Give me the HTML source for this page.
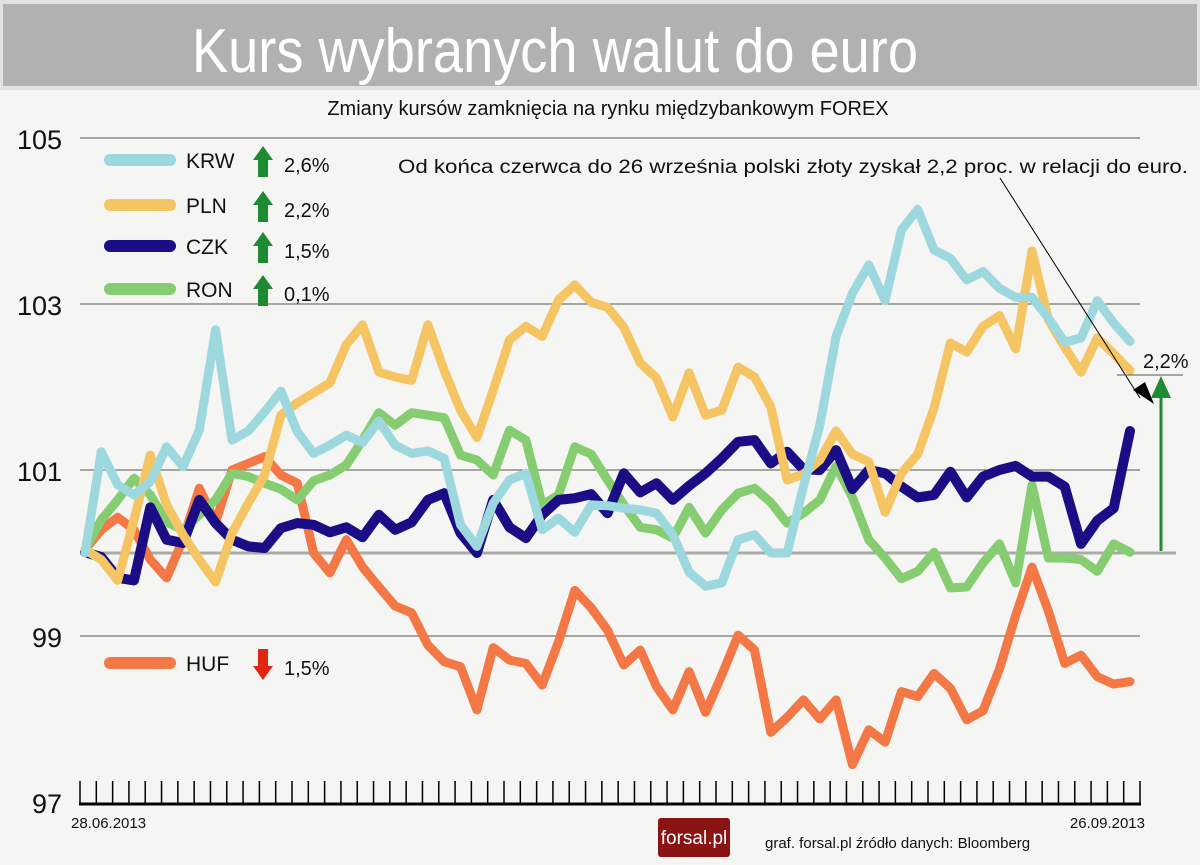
<!DOCTYPE html>
<html><head><meta charset="utf-8">
<style>
body{margin:0;background:#f5f5f3;}
svg{display:block;font-family:"Liberation Sans",sans-serif;}
</style></head>
<body>
<svg id="chart" width="1200" height="865" viewBox="0 0 1200 865">
<rect x="0" y="0" width="1200" height="865" fill="#f5f5f3"/>
<rect x="0" y="0" width="1200" height="90" fill="#e2e2e2"/>
<rect x="3" y="4" width="1194" height="82" fill="#b1b1b1"/>
<text x="192" y="72" font-family="'Liberation Sans Narrow','Liberation Sans',sans-serif" font-size="62" fill="#ffffff" textLength="726" lengthAdjust="spacingAndGlyphs">Kurs wybranych walut do euro</text>
<text x="608" y="115" font-size="20" text-anchor="middle" fill="#111">Zmiany kursów zamknięcia na rynku międzybankowym FOREX</text>
<g id="grid"></g>
<g id="yaxis"></g>
<g id="xaxis"></g>
<g id="series"></g>
<g id="legend"></g>
<text x="398" y="173" font-size="19" fill="#111" textLength="790" lengthAdjust="spacingAndGlyphs">Od końca czerwca do 26 września polski złoty zyskał 2,2 proc. w relacji do euro.</text>
<line x1="1000" y1="178" x2="1140" y2="398" stroke="#000" stroke-width="1"/>
<polygon points="1154,404 1133,390 1145,382" fill="#000"/>
<line x1="1117" y1="375" x2="1183" y2="375" stroke="#555" stroke-width="1"/>
<text x="1143" y="368" font-size="20" fill="#111">2,2%</text>
<line x1="1161" y1="551" x2="1161" y2="395" stroke="#1e8a32" stroke-width="3"/>
<polygon points="1161,376 1151,398 1171,398" fill="#1e8a32"/>
<text x="71" y="828" font-size="15" fill="#111">28.06.2013</text>
<text x="1145" y="828" font-size="15" fill="#111" text-anchor="end">26.09.2013</text>
<rect x="658" y="818" width="72" height="39" rx="3" fill="#8a1414"/>
<text x="694" y="844" font-size="19" fill="#fff" text-anchor="middle" font-family="'Liberation Sans Narrow','Liberation Sans',sans-serif">forsal.pl</text>
<text x="765" y="848" font-size="15" fill="#111" font-family="'Liberation Sans Narrow','Liberation Sans',sans-serif">graf. forsal.pl    źródło danych: Bloomberg</text>
</svg>
<script>
const yTicks=[105,103,101,99,97];
const gridValues=[105,103,101,99];
const seriesNames=["KRW","PLN","CZK","RON","HUF"];
const seriesChanges=["2,6%","2,2%","1,5%","0,1%","1,5%"];
const KRW=[100.00,101.22,100.82,100.70,100.86,101.28,101.04,101.48,102.69,101.36,101.47,101.70,101.95,101.46,101.20,101.30,101.42,101.33,101.59,101.30,101.20,101.23,101.14,100.34,100.08,100.60,100.88,100.96,100.28,100.42,100.25,100.58,100.57,100.54,100.52,100.48,100.22,99.77,99.60,99.64,100.16,100.22,100.00,100.00,100.80,101.54,102.61,103.13,103.47,103.04,103.89,104.14,103.65,103.55,103.29,103.39,103.19,103.08,103.08,102.83,102.54,102.59,103.04,102.77,102.55];
const PLN=[100.04,99.92,99.67,100.40,101.18,100.58,100.22,99.92,99.65,100.24,100.60,100.94,101.66,101.81,101.93,102.05,102.51,102.75,102.18,102.12,102.08,102.75,102.20,101.72,101.39,101.96,102.57,102.73,102.61,103.05,103.23,103.02,102.96,102.72,102.29,102.11,101.64,102.17,101.66,101.72,102.24,102.12,101.76,100.88,100.95,101.12,101.47,101.19,101.10,100.49,100.96,101.19,101.75,102.53,102.42,102.73,102.86,102.46,103.64,102.81,102.48,102.18,102.59,102.40,102.20];
const CZK=[100.01,99.95,99.70,99.67,100.55,100.16,100.12,100.64,100.36,100.16,100.08,100.06,100.30,100.36,100.34,100.25,100.31,100.19,100.46,100.28,100.37,100.64,100.72,100.24,100.00,100.64,100.31,100.18,100.46,100.64,100.66,100.71,100.48,100.96,100.73,100.84,100.64,100.81,100.96,101.14,101.34,101.36,101.08,101.22,101.01,101.00,101.24,100.77,101.00,100.96,100.80,100.67,100.70,100.98,100.67,100.92,101.00,101.05,100.92,100.92,100.80,100.11,100.39,100.54,101.47];
const RON=[100.04,100.40,100.64,100.90,100.70,100.37,100.28,100.46,100.64,100.96,100.92,100.84,100.77,100.64,100.87,100.94,101.06,101.36,101.69,101.54,101.69,101.66,101.63,101.18,101.12,100.94,101.48,101.36,100.58,100.70,101.28,101.19,100.88,100.58,100.31,100.28,100.18,100.55,100.24,100.52,100.72,100.78,100.61,100.36,100.48,100.64,101.05,100.67,100.16,99.94,99.69,99.78,100.01,99.58,99.59,99.88,100.11,99.64,100.82,99.94,99.94,99.92,99.78,100.11,100.01];
const HUF=[100.04,100.28,100.43,100.28,99.92,99.70,100.16,100.78,100.37,101.00,101.08,101.16,100.94,100.84,100.00,99.76,100.16,99.83,99.59,99.36,99.28,98.89,98.69,98.63,98.11,98.86,98.71,98.67,98.41,98.93,99.55,99.34,99.07,98.65,98.83,98.39,98.11,98.57,98.08,98.53,99.01,98.83,97.84,98.02,98.23,98.00,98.23,97.45,97.87,97.72,98.33,98.27,98.55,98.37,97.99,98.10,98.60,99.25,99.83,99.30,98.67,98.77,98.51,98.42,98.45];

const NS="http://www.w3.org/2000/svg";
const X0=85,X1=1130,YBASE=553,PXU=83;
const N=KRW.length;
function xs(i){return X0+i*(X1-X0)/(N-1);}
function ys(v){return YBASE-(v-100)*PXU;}
function mk(tag,attrs,parent){const e=document.createElementNS(NS,tag);for(const k in attrs)e.setAttribute(k,attrs[k]);parent.appendChild(e);return e;}

const grid=document.getElementById('grid');
gridValues.forEach(v=>{
  const l=mk('line',{x1:80,x2:1140,y1:ys(v),y2:ys(v),stroke:'#555','stroke-width':1},grid);
  
  
});
const base=mk('line',{x1:80,x2:1176,y1:ys(100),y2:ys(100),stroke:'#aaaaaa','stroke-width':3},grid);



const yax=document.getElementById('yaxis');
yTicks.forEach(v=>{
  const t=mk('text',{x:62,y:ys(v)+11,'font-size':27,'text-anchor':'end',fill:'#111'},yax);
  t.textContent=v;
  
  
});

const xax=document.getElementById('xaxis');
const axY=804;
const axl=mk('line',{x1:79,x2:1141,y1:axY,y2:axY,stroke:'#000','stroke-width':3},xax);


for(let i=0;i<66;i++){
  const x=80+i*(1140-80)/65;
  const tk=mk('line',{x1:x,x2:x,y1:781,y2:axY,stroke:'#000','stroke-width':1.5},xax);
  
  
}

const colors={KRW:'#9dd8df',PLN:'#f5c463',CZK:'#1a0d86',RON:'#86cd72',HUF:'#f47746'};
const data={KRW,PLN,CZK,RON,HUF};
const order=["HUF","RON","CZK","PLN","KRW"];
const sg=document.getElementById('series');
order.forEach(name=>{
  const arr=data[name];
  const d=arr.map((v,i)=>(i?'L':'M')+xs(i).toFixed(1)+','+ys(v).toFixed(1)).join(' ');
  const p=mk('path',{d:d,fill:'none',stroke:colors[name],'stroke-width':name==='CZK'?10:9,'stroke-linejoin':'round','stroke-linecap':'round'},sg);
  
  
});

const lg=document.getElementById('legend');
const legendY=[160,205,246,289,663];
seriesNames.forEach((name,k)=>{
  const y=legendY[k];
  const sw=mk('line',{x1:110,x2:170,y1:y,y2:y,stroke:colors[name],'stroke-width':12,'stroke-linecap':'round'},lg);
  
  
  const t=mk('text',{x:186,y:y+8,'font-size':21,fill:'#111'},lg);
  t.textContent=name;
  
  
  const up=name!=='HUF';
  const ax=263;
  const arrow=mk('polygon',{points:up?`${ax},${y-14} ${ax-10},${y} ${ax-5},${y} ${ax-5},${y+17} ${ax+5},${y+17} ${ax+5},${y} ${ax+10},${y}`:`${ax},${y+17} ${ax-10},${y+3} ${ax-5},${y+3} ${ax-5},${y-14} ${ax+5},${y-14} ${ax+5},${y+3} ${ax+10},${y+3}`,fill:up?'#1e8a32':'#e0260e'},lg);
  
  
  const c=mk('text',{x:284,y:y+12,'font-size':20,fill:'#111'},lg);
  c.textContent=seriesChanges[k];
  
  
});
</script>
</body></html>
